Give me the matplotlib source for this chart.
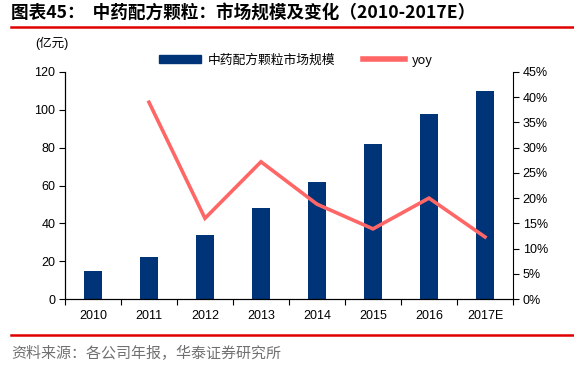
import matplotlib
matplotlib.use("Agg")
import matplotlib.pyplot as plt
import numpy as np
from matplotlib.ticker import FuncFormatter, FixedLocator
from matplotlib.lines import Line2D
from matplotlib.patches import Patch

plt.rcParams['font.family'] = ['Liberation Sans', 'Noto Sans CJK SC', 'DejaVu Sans']

years = ["2010", "2011", "2012", "2013", "2014", "2015", "2016", "2017E"]
market = [15, 22, 34, 48, 62, 82, 98, 110]
yoy = [None, 39.0, 16.0, 27.2, 18.8, 13.9, 20.0, 12.3]

bar_color = "#003479"
line_color = "#FF6666"

fig = plt.figure(figsize=(5.74, 3.71), dpi=100)
ax = fig.add_axes([0.1132, 0.194, 0.7805, 0.612])
ax2 = ax.twinx()

x = np.arange(len(years))
ax.bar(x, market, width=0.32, color=bar_color, zorder=2)
yx = [i for i, v in enumerate(yoy) if v is not None]
yv = [v for v in yoy if v is not None]
ax2.plot(yx, yv, color=line_color, lw=2.6, solid_joinstyle="miter")

ax.set_xlim(-0.5, len(years) - 0.5)
ax.set_ylim(0, 120)
ax.set_yticks(range(0, 121, 20))
ax2.set_ylim(0, 45)
ax2.set_yticks(range(0, 46, 5))
ax2.yaxis.set_major_formatter(FuncFormatter(lambda v, p: f"{v:.0f}%"))

ax.set_xticks(x)
ax.set_xticklabels(years)
ax.xaxis.set_minor_locator(FixedLocator(np.arange(-0.5, len(years), 1.0)))
ax.tick_params(axis="x", which="major", length=0, pad=8, labelsize=9)
ax.tick_params(axis="x", which="minor", length=4, width=0.8, direction="out")
ax.tick_params(axis="y", length=4, width=0.8, labelsize=9, pad=3)
ax2.tick_params(axis="y", length=4, width=0.8, labelsize=9, pad=3)

for a in (ax, ax2):
    a.spines["top"].set_visible(False)
    for s in ("left", "right", "bottom"):
        a.spines[s].set_linewidth(0.8)
ax.spines["right"].set_visible(False)

handles = [Patch(color=bar_color), Line2D([0], [0], color=line_color, lw=4)]
leg = fig.legend(handles, ["中药配方颗粒市场规模", "yoy"], loc="center",
                 bbox_to_anchor=(0.515, 0.838), ncol=2, frameon=False,
                 handlelength=3.3, handleheight=0.6, handletextpad=0.5,
                 columnspacing=2.2,
                 prop={'family': ['Noto Sans CJK SC'], 'size': 9.2})

fig.text(0.062, 0.872, "(亿元)", fontsize=9, family=['Liberation Sans', 'Noto Sans CJK SC'])

fig.text(0.02, 0.965, "图表45：  中药配方颗粒：市场规模及变化（2010-2017E）",
         fontsize=12.7, fontweight="bold", va="center",
         family=['Noto Sans CJK SC', 'DejaVu Sans'])
fig.add_artist(Line2D([0.02, 0.998], [0.927, 0.927], color="#E00000", lw=1.8))
fig.add_artist(Line2D([0.02, 0.998], [0.097, 0.097], color="#E00000", lw=1.8))
fig.text(0.02, 0.048, "资料来源：各公司年报，华泰证券研究所", fontsize=10.8, color="#707070",
         va="center", family=['Noto Sans CJK SC'])

fig.savefig("out.png", dpi=100)
